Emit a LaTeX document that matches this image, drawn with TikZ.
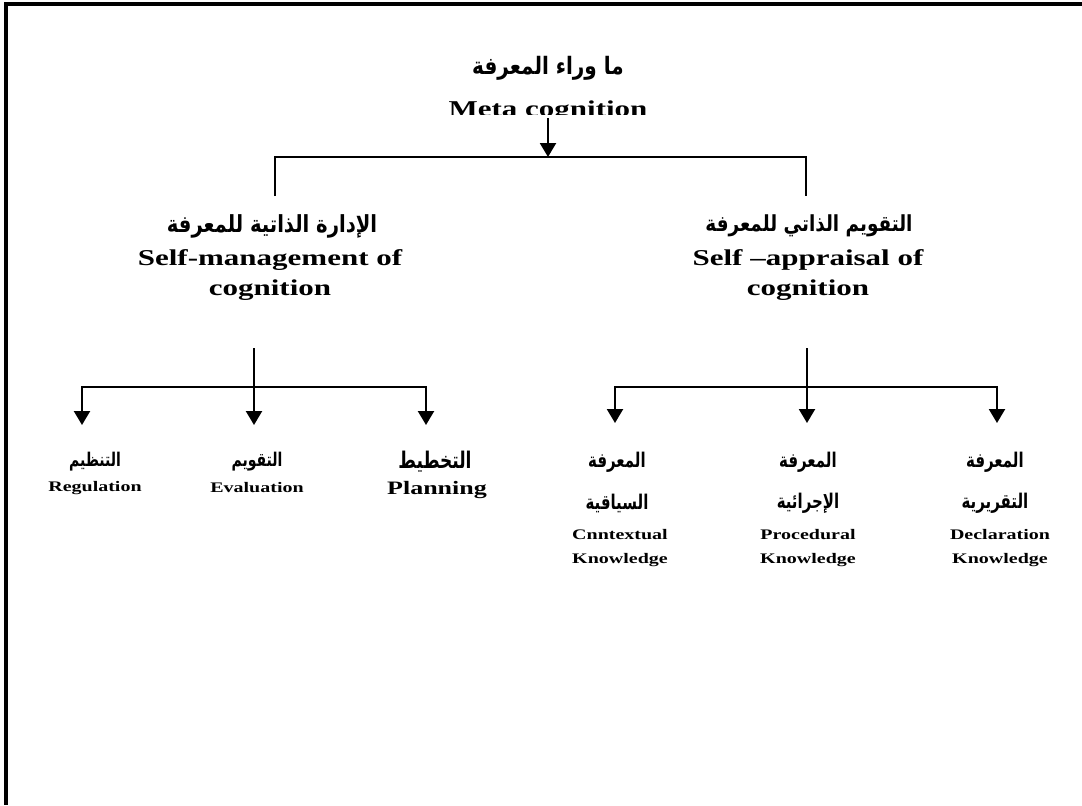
\documentclass[tikz,border=0pt]{standalone}
\usepackage{fontspec}
\setmainfont{Liberation Serif}
\newfontfamily\arabicfont[Script=Arabic]{DejaVu Sans}
\TeXXeTstate=1
\usetikzlibrary{arrows.meta}
\newcommand{\ar}[1]{{\arabicfont\bfseries\beginR #1\endR}}

\begin{document}
\begin{tikzpicture}[x=0.5pt,y=-0.5pt,line width=1.1pt,
    arr/.style={-{Triangle[width=8pt,length=7pt]}},
    lbl/.style={inner sep=0pt,yscale=0.73,align=center,font=\bfseries},
    bigen/.style={lbl,font=\fontsize{15.5}{21}\selectfont\bfseries},
    bigar/.style={inner sep=0pt,yscale=1.2,font=\fontsize{9.6}{12}\selectfont},
    smallen/.style={lbl,font=\fontsize{10}{16}\selectfont\bfseries},
    smallar/.style={inner sep=0pt,yscale=1.35,font=\fontsize{7.5}{9}\selectfont}]
    \useasboundingbox (0,0) rectangle (1082,805);
    \draw[line width=1.6pt] (1082,4) -- (6,4) -- (6,805);
    % top
    \node[bigar,font=\fontsize{10}{12}\selectfont] (metaar) at (548,68) {\ar{ما وراء المعرفة}};
    \begin{scope}
      \clip (380,80) rectangle (720,114);
      \node[bigen,anchor=base] (metaen) at (548,116) {Meta cognition};
    \end{scope}
    \coordinate (metadown) at (548,118);
    \coordinate (bartop) at (548,157);
    \coordinate (mgmtup) at (275,196);
    \coordinate (apprup) at (806,196);
    \draw[arr] (metadown) -- (bartop);
    \draw (mgmtup) |- (bartop) -| (apprup);
    % second level
    \node[bigar,font=\fontsize{9.8}{12}\selectfont] (mgmtar) at (272,226) {\ar{الإدارة الذاتية للمعرفة}};
    \node[bigen] (mgmten) at (270,275) {Self-management of\\cognition};
    \node[bigar,font=\fontsize{9.2}{12}\selectfont] (apprar) at (809,226) {\ar{التقويم الذاتي للمعرفة}};
    \node[bigen] (appren) at (808,275) {Self --appraisal of\\cognition};
    % left branch
    \coordinate (mgmtdown) at (254,348);
    \coordinate (mgmtbar) at (254,387);
    \coordinate (regtip) at (82,425);
    \coordinate (evatip) at (254,425);
    \coordinate (plantip) at (426,425);
    \draw[arr] (mgmtdown) -- (evatip);
    \draw[arr] (mgmtbar) -| (regtip);
    \draw[arr] (mgmtbar) -| (plantip);
    % right branch
    \coordinate (apprdown) at (807,348);
    \coordinate (apprbar) at (807,387);
    \coordinate (conttip) at (615,423);
    \coordinate (proctip) at (807,423);
    \coordinate (decltip) at (997,423);
    \draw[arr] (apprdown) -- (proctip);
    \draw[arr] (apprbar) -| (conttip);
    \draw[arr] (apprbar) -| (decltip);
    % leaves
    \node[smallar,font=\fontsize{7}{9}\selectfont] (regar) at (95,462) {\ar{التنظيم}};
    \node[smallen] (regen) at (95,488) {Regulation};
    \node[smallar,font=\fontsize{7}{9}\selectfont] (evaar) at (257,462) {\ar{التقويم}};
    \node[smallen] (evaen) at (257,488) {Evaluation};
    \node[smallar,font=\fontsize{8.5}{9}\selectfont] (planar) at (435,462) {\ar{التخطيط}};
    \node[lbl,font=\fontsize{13}{16}\selectfont\bfseries] (planen) at (437,490) {Planning};
    \node[smallar] (contar) at (617,462) {\ar{المعرفة}};
    \node[smallar] (contar2) at (617,503) {\ar{السياقية}};
    \node[smallen] (conten) at (620,548) {Cnntextual\\Knowledge};
    \node[smallar] (procar) at (808,462) {\ar{المعرفة}};
    \node[smallar] (procar2) at (808,503) {\ar{الإجرائية}};
    \node[smallen] (procen) at (808,548) {Procedural\\Knowledge};
    \node[smallar] (declar) at (995,462) {\ar{المعرفة}};
    \node[smallar] (declar2) at (995,503) {\ar{التقريرية}};
    \node[smallen] (declen) at (1000,548) {Declaration\\Knowledge};
\end{tikzpicture}
\end{document}
